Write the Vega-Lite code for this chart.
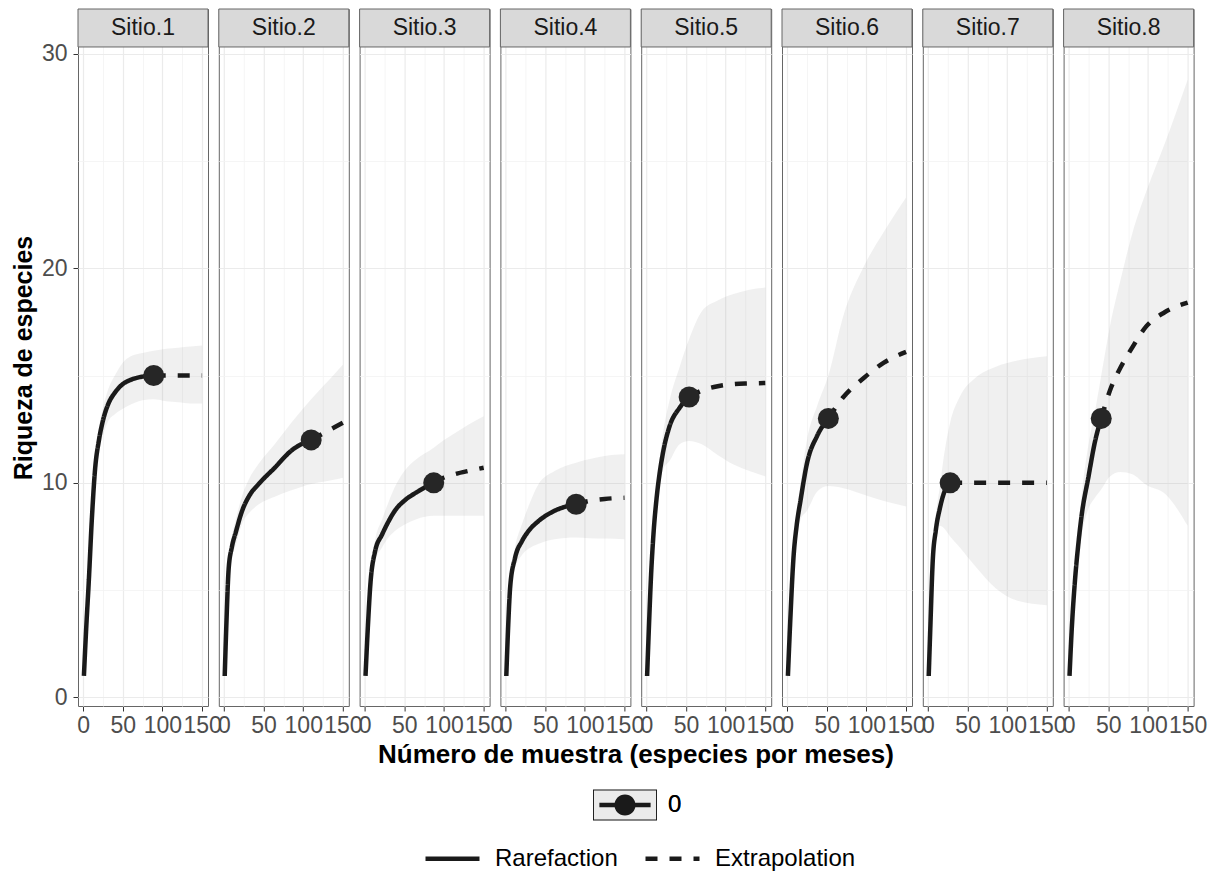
{
  "$schema": "https://vega.github.io/schema/vega-lite/v6.json",
  "padding": {"left": 11, "top": 8, "right": 5, "bottom": 5},
  "background": "white",
  "bounds": "flush",
  "data": {"values": [
    {"sitio":"Sitio.1","tipo":"Rarefaction","x":1,"y":1,"lo":1,"hi":1},
    {"sitio":"Sitio.1","tipo":"Rarefaction","x":4,"y":3.3,"lo":3.0,"hi":3.6},
    {"sitio":"Sitio.1","tipo":"Rarefaction","x":7,"y":5.3,"lo":4.9,"hi":5.7},
    {"sitio":"Sitio.1","tipo":"Rarefaction","x":11,"y":8.3,"lo":7.8,"hi":8.8},
    {"sitio":"Sitio.1","tipo":"Rarefaction","x":15,"y":10.6,"lo":10.0,"hi":11.2},
    {"sitio":"Sitio.1","tipo":"Rarefaction","x":20,"y":12.0,"lo":11.4,"hi":12.6},
    {"sitio":"Sitio.1","tipo":"Rarefaction","x":25,"y":12.9,"lo":12.2,"hi":13.5},
    {"sitio":"Sitio.1","tipo":"Rarefaction","x":32,"y":13.7,"lo":12.9,"hi":14.4},
    {"sitio":"Sitio.1","tipo":"Rarefaction","x":40,"y":14.2,"lo":13.2,"hi":15.0},
    {"sitio":"Sitio.1","tipo":"Rarefaction","x":50,"y":14.6,"lo":13.45,"hi":15.6},
    {"sitio":"Sitio.1","tipo":"Rarefaction","x":60,"y":14.8,"lo":13.65,"hi":15.9},
    {"sitio":"Sitio.1","tipo":"Rarefaction","x":75,"y":14.95,"lo":13.85,"hi":16.05},
    {"sitio":"Sitio.1","tipo":"Rarefaction","x":89,"y":15,"lo":13.9,"hi":16.15},
    {"sitio":"Sitio.1","tipo":"Extrapolation","x":89,"y":15,"lo":13.9,"hi":16.15},
    {"sitio":"Sitio.1","tipo":"Extrapolation","x":105,"y":15,"lo":13.8,"hi":16.25},
    {"sitio":"Sitio.1","tipo":"Extrapolation","x":120,"y":15,"lo":13.75,"hi":16.3},
    {"sitio":"Sitio.1","tipo":"Extrapolation","x":135,"y":15,"lo":13.7,"hi":16.35},
    {"sitio":"Sitio.1","tipo":"Extrapolation","x":150,"y":15,"lo":13.7,"hi":16.4},
    {"sitio":"Sitio.1","tipo":"obs","x":89,"y":15,"grupo":"0"},

    {"sitio":"Sitio.2","tipo":"Rarefaction","x":1,"y":1,"lo":1,"hi":1},
    {"sitio":"Sitio.2","tipo":"Rarefaction","x":3,"y":3.3,"lo":3.1,"hi":3.5},
    {"sitio":"Sitio.2","tipo":"Rarefaction","x":6,"y":6.0,"lo":5.6,"hi":6.4},
    {"sitio":"Sitio.2","tipo":"Rarefaction","x":10,"y":7.0,"lo":6.5,"hi":7.5},
    {"sitio":"Sitio.2","tipo":"Rarefaction","x":15,"y":7.7,"lo":7.1,"hi":8.3},
    {"sitio":"Sitio.2","tipo":"Rarefaction","x":23,"y":8.7,"lo":8.1,"hi":9.4},
    {"sitio":"Sitio.2","tipo":"Rarefaction","x":32,"y":9.4,"lo":8.6,"hi":10.2},
    {"sitio":"Sitio.2","tipo":"Rarefaction","x":44,"y":9.95,"lo":9.0,"hi":10.9},
    {"sitio":"Sitio.2","tipo":"Rarefaction","x":64,"y":10.7,"lo":9.35,"hi":11.8},
    {"sitio":"Sitio.2","tipo":"Rarefaction","x":85,"y":11.5,"lo":9.65,"hi":12.8},
    {"sitio":"Sitio.2","tipo":"Rarefaction","x":110,"y":12.0,"lo":9.95,"hi":13.9},
    {"sitio":"Sitio.2","tipo":"Extrapolation","x":110,"y":12.0,"lo":9.95,"hi":13.9},
    {"sitio":"Sitio.2","tipo":"Extrapolation","x":125,"y":12.3,"lo":10.05,"hi":14.5},
    {"sitio":"Sitio.2","tipo":"Extrapolation","x":140,"y":12.6,"lo":10.15,"hi":15.1},
    {"sitio":"Sitio.2","tipo":"Extrapolation","x":150,"y":12.8,"lo":10.24,"hi":15.5},
    {"sitio":"Sitio.2","tipo":"obs","x":110,"y":12,"grupo":"0"},

    {"sitio":"Sitio.3","tipo":"Rarefaction","x":1,"y":1,"lo":1,"hi":1},
    {"sitio":"Sitio.3","tipo":"Rarefaction","x":4,"y":3.3,"lo":3.1,"hi":3.5},
    {"sitio":"Sitio.3","tipo":"Rarefaction","x":7,"y":5.2,"lo":4.8,"hi":5.6},
    {"sitio":"Sitio.3","tipo":"Rarefaction","x":13,"y":6.8,"lo":6.3,"hi":7.3},
    {"sitio":"Sitio.3","tipo":"Rarefaction","x":22,"y":7.6,"lo":7.0,"hi":8.3},
    {"sitio":"Sitio.3","tipo":"Rarefaction","x":30,"y":8.2,"lo":7.45,"hi":9.1},
    {"sitio":"Sitio.3","tipo":"Rarefaction","x":38,"y":8.7,"lo":7.75,"hi":9.8},
    {"sitio":"Sitio.3","tipo":"Rarefaction","x":51,"y":9.2,"lo":8.07,"hi":10.6},
    {"sitio":"Sitio.3","tipo":"Rarefaction","x":65,"y":9.55,"lo":8.3,"hi":11.1},
    {"sitio":"Sitio.3","tipo":"Rarefaction","x":87,"y":10,"lo":8.46,"hi":11.64},
    {"sitio":"Sitio.3","tipo":"Extrapolation","x":87,"y":10,"lo":8.46,"hi":11.64},
    {"sitio":"Sitio.3","tipo":"Extrapolation","x":100,"y":10.25,"lo":8.46,"hi":12.0},
    {"sitio":"Sitio.3","tipo":"Extrapolation","x":113,"y":10.4,"lo":8.46,"hi":12.3},
    {"sitio":"Sitio.3","tipo":"Extrapolation","x":130,"y":10.55,"lo":8.46,"hi":12.7},
    {"sitio":"Sitio.3","tipo":"Extrapolation","x":150,"y":10.7,"lo":8.46,"hi":13.1},
    {"sitio":"Sitio.3","tipo":"obs","x":87,"y":10,"grupo":"0"},

    {"sitio":"Sitio.4","tipo":"Rarefaction","x":1,"y":1,"lo":1,"hi":1},
    {"sitio":"Sitio.4","tipo":"Rarefaction","x":3,"y":3.0,"lo":2.8,"hi":3.2},
    {"sitio":"Sitio.4","tipo":"Rarefaction","x":6,"y":5.2,"lo":4.8,"hi":5.6},
    {"sitio":"Sitio.4","tipo":"Rarefaction","x":12,"y":6.5,"lo":6.0,"hi":7.0},
    {"sitio":"Sitio.4","tipo":"Rarefaction","x":21,"y":7.3,"lo":6.65,"hi":8.1},
    {"sitio":"Sitio.4","tipo":"Rarefaction","x":30,"y":7.8,"lo":6.95,"hi":9.0},
    {"sitio":"Sitio.4","tipo":"Rarefaction","x":41,"y":8.2,"lo":7.15,"hi":9.9},
    {"sitio":"Sitio.4","tipo":"Rarefaction","x":62,"y":8.7,"lo":7.37,"hi":10.55},
    {"sitio":"Sitio.4","tipo":"Rarefaction","x":89,"y":9.0,"lo":7.45,"hi":10.94},
    {"sitio":"Sitio.4","tipo":"Extrapolation","x":89,"y":9.0,"lo":7.45,"hi":10.94},
    {"sitio":"Sitio.4","tipo":"Extrapolation","x":105,"y":9.15,"lo":7.42,"hi":11.1},
    {"sitio":"Sitio.4","tipo":"Extrapolation","x":125,"y":9.25,"lo":7.4,"hi":11.25},
    {"sitio":"Sitio.4","tipo":"Extrapolation","x":150,"y":9.3,"lo":7.37,"hi":11.33},
    {"sitio":"Sitio.4","tipo":"obs","x":89,"y":9,"grupo":"0"},

    {"sitio":"Sitio.5","tipo":"Rarefaction","x":1,"y":1,"lo":1,"hi":1},
    {"sitio":"Sitio.5","tipo":"Rarefaction","x":3,"y":3.0,"lo":2.9,"hi":3.1},
    {"sitio":"Sitio.5","tipo":"Rarefaction","x":6,"y":5.7,"lo":5.4,"hi":6.0},
    {"sitio":"Sitio.5","tipo":"Rarefaction","x":9,"y":7.6,"lo":7.2,"hi":8.0},
    {"sitio":"Sitio.5","tipo":"Rarefaction","x":13,"y":9.3,"lo":8.8,"hi":9.9},
    {"sitio":"Sitio.5","tipo":"Rarefaction","x":17,"y":10.5,"lo":9.9,"hi":11.2},
    {"sitio":"Sitio.5","tipo":"Rarefaction","x":21,"y":11.4,"lo":10.6,"hi":12.3},
    {"sitio":"Sitio.5","tipo":"Rarefaction","x":29,"y":12.6,"lo":11.0,"hi":13.8},
    {"sitio":"Sitio.5","tipo":"Rarefaction","x":42,"y":13.5,"lo":11.8,"hi":15.4},
    {"sitio":"Sitio.5","tipo":"Rarefaction","x":54,"y":14.0,"lo":11.95,"hi":16.7},
    {"sitio":"Sitio.5","tipo":"Extrapolation","x":54,"y":14.0,"lo":11.95,"hi":16.7},
    {"sitio":"Sitio.5","tipo":"Extrapolation","x":70,"y":14.3,"lo":11.8,"hi":18.0},
    {"sitio":"Sitio.5","tipo":"Extrapolation","x":90,"y":14.5,"lo":11.3,"hi":18.5},
    {"sitio":"Sitio.5","tipo":"Extrapolation","x":110,"y":14.6,"lo":10.85,"hi":18.8},
    {"sitio":"Sitio.5","tipo":"Extrapolation","x":130,"y":14.63,"lo":10.55,"hi":19.0},
    {"sitio":"Sitio.5","tipo":"Extrapolation","x":150,"y":14.65,"lo":10.3,"hi":19.1},
    {"sitio":"Sitio.5","tipo":"obs","x":54,"y":14,"grupo":"0"},

    {"sitio":"Sitio.6","tipo":"Rarefaction","x":1,"y":1,"lo":1,"hi":1},
    {"sitio":"Sitio.6","tipo":"Rarefaction","x":4,"y":3.6,"lo":3.4,"hi":3.8},
    {"sitio":"Sitio.6","tipo":"Rarefaction","x":8,"y":6.5,"lo":6.1,"hi":6.9},
    {"sitio":"Sitio.6","tipo":"Rarefaction","x":12,"y":8.0,"lo":7.5,"hi":8.6},
    {"sitio":"Sitio.6","tipo":"Rarefaction","x":17,"y":9.2,"lo":8.3,"hi":10.0},
    {"sitio":"Sitio.6","tipo":"Rarefaction","x":25,"y":10.9,"lo":8.7,"hi":12.0},
    {"sitio":"Sitio.6","tipo":"Rarefaction","x":38,"y":12.2,"lo":9.6,"hi":13.6},
    {"sitio":"Sitio.6","tipo":"Rarefaction","x":52,"y":13.0,"lo":9.85,"hi":15.0},
    {"sitio":"Sitio.6","tipo":"Extrapolation","x":52,"y":13.0,"lo":9.85,"hi":15.0},
    {"sitio":"Sitio.6","tipo":"Extrapolation","x":71,"y":14.0,"lo":9.75,"hi":17.8},
    {"sitio":"Sitio.6","tipo":"Extrapolation","x":97,"y":14.9,"lo":9.45,"hi":20.1},
    {"sitio":"Sitio.6","tipo":"Extrapolation","x":122,"y":15.6,"lo":9.15,"hi":21.7},
    {"sitio":"Sitio.6","tipo":"Extrapolation","x":150,"y":16.1,"lo":8.9,"hi":23.3},
    {"sitio":"Sitio.6","tipo":"obs","x":52,"y":13,"grupo":"0"},

    {"sitio":"Sitio.7","tipo":"Rarefaction","x":1,"y":1,"lo":1,"hi":1},
    {"sitio":"Sitio.7","tipo":"Rarefaction","x":3,"y":3.2,"lo":3.0,"hi":3.4},
    {"sitio":"Sitio.7","tipo":"Rarefaction","x":6,"y":6.3,"lo":5.9,"hi":6.8},
    {"sitio":"Sitio.7","tipo":"Rarefaction","x":10,"y":7.8,"lo":7.2,"hi":8.5},
    {"sitio":"Sitio.7","tipo":"Rarefaction","x":15,"y":8.8,"lo":8.0,"hi":9.8},
    {"sitio":"Sitio.7","tipo":"Rarefaction","x":20,"y":9.5,"lo":7.9,"hi":11.2},
    {"sitio":"Sitio.7","tipo":"Rarefaction","x":28,"y":10,"lo":7.5,"hi":12.8},
    {"sitio":"Sitio.7","tipo":"Extrapolation","x":28,"y":10,"lo":7.5,"hi":12.8},
    {"sitio":"Sitio.7","tipo":"Extrapolation","x":40,"y":10,"lo":7.0,"hi":14.0},
    {"sitio":"Sitio.7","tipo":"Extrapolation","x":60,"y":10,"lo":6.1,"hi":14.9},
    {"sitio":"Sitio.7","tipo":"Extrapolation","x":85,"y":10,"lo":5.1,"hi":15.4},
    {"sitio":"Sitio.7","tipo":"Extrapolation","x":113,"y":10,"lo":4.5,"hi":15.7},
    {"sitio":"Sitio.7","tipo":"Extrapolation","x":150,"y":10,"lo":4.3,"hi":15.9},
    {"sitio":"Sitio.7","tipo":"obs","x":28,"y":10,"grupo":"0"},

    {"sitio":"Sitio.8","tipo":"Rarefaction","x":1,"y":1,"lo":1,"hi":1},
    {"sitio":"Sitio.8","tipo":"Rarefaction","x":4,"y":3.3,"lo":3.1,"hi":3.5},
    {"sitio":"Sitio.8","tipo":"Rarefaction","x":8,"y":5.5,"lo":5.1,"hi":5.9},
    {"sitio":"Sitio.8","tipo":"Rarefaction","x":12,"y":7.1,"lo":6.5,"hi":7.7},
    {"sitio":"Sitio.8","tipo":"Rarefaction","x":16,"y":8.4,"lo":7.5,"hi":9.3},
    {"sitio":"Sitio.8","tipo":"Rarefaction","x":25,"y":10.3,"lo":8.8,"hi":11.8},
    {"sitio":"Sitio.8","tipo":"Rarefaction","x":33,"y":11.9,"lo":9.3,"hi":13.3},
    {"sitio":"Sitio.8","tipo":"Rarefaction","x":41,"y":13.0,"lo":9.7,"hi":15.0},
    {"sitio":"Sitio.8","tipo":"Extrapolation","x":41,"y":13.0,"lo":9.7,"hi":15.0},
    {"sitio":"Sitio.8","tipo":"Extrapolation","x":52,"y":14.3,"lo":10.3,"hi":17.3},
    {"sitio":"Sitio.8","tipo":"Extrapolation","x":65,"y":15.35,"lo":10.5,"hi":19.4},
    {"sitio":"Sitio.8","tipo":"Extrapolation","x":80,"y":16.3,"lo":10.4,"hi":21.6},
    {"sitio":"Sitio.8","tipo":"Extrapolation","x":98,"y":17.3,"lo":9.9,"hi":23.6},
    {"sitio":"Sitio.8","tipo":"Extrapolation","x":121,"y":17.95,"lo":9.5,"hi":25.8},
    {"sitio":"Sitio.8","tipo":"Extrapolation","x":150,"y":18.4,"lo":8.0,"hi":28.8},
    {"sitio":"Sitio.8","tipo":"obs","x":41,"y":13,"grupo":"0"}
  ]},
  "facet": {
    "column": {
      "field": "sitio",
      "type": "nominal",
      "header": {
        "labels": false,
        "title": "Número de muestra (especies por meses)",
        "titleOrient": "bottom",
        "titleFont": "Liberation Sans",
        "titleFontSize": 26,
        "titleFontWeight": "bold",
        "titleColor": "black",
        "titlePadding": -5
      }
    }
  },
  "spacing": 10.8,
  "spec": {
    "width": 130,
    "height": 697,
    "encoding": {
      "x": {
        "field": "x",
        "type": "quantitative",
        "scale": {"domain": [-6.45, 157.45], "nice": false, "zero": false},
        "axis": {
          "title": null,
          "values": [0, 25, 50, 75, 100, 125, 150],
          "labelExpr": "datum.value % 50 === 0 ? datum.label : ''",
          "labelOverlap": false,
          "labelFlush": false,
          "tickOpacity": {"condition": {"test": "datum.value % 50 === 0", "value": 1}, "value": 0},
          "gridColor": {"condition": {"test": "datum.value % 50 === 0", "value": "#EBEBEB"}, "value": "#F3F3F3"},
          "gridWidth": {"condition": {"test": "datum.value % 50 === 0", "value": 1.2}, "value": 0.8}
        }
      },
      "y": {
        "field": "y",
        "type": "quantitative",
        "scale": {"domain": [-0.4, 32.08], "nice": false, "zero": false},
        "axis": {
          "title": "Riqueza de especies",
          "titlePadding": 5,
          "labelPadding": 6,
          "values": [0, 5, 10, 15, 20, 25, 30],
          "labelExpr": "datum.value % 10 === 0 ? datum.label : ''",
          "labelOverlap": false,
          "labelFlush": false,
          "tickOpacity": {"condition": {"test": "datum.value % 10 === 0", "value": 1}, "value": 0},
          "gridColor": {"condition": {"test": "datum.value % 10 === 0", "value": "#EBEBEB"}, "value": "#F3F3F3"},
          "gridWidth": {"condition": {"test": "datum.value % 10 === 0", "value": 1.2}, "value": 0.8}
        }
      }
    },
    "layer": [
      {
        "transform": [{"filter": "datum.tipo !== 'obs'"}],
        "mark": {"type": "area", "fill": "#999999", "fillOpacity": 0.15, "interpolate": "monotone"},
        "encoding": {
          "y": {"field": "lo", "type": "quantitative"},
          "y2": {"field": "hi"}
        }
      },
      {
        "transform": [{"filter": "datum.tipo !== 'obs'"}],
        "mark": {"type": "line", "color": "#1A1A1A", "strokeWidth": 4.5, "strokeCap": "butt", "interpolate": "monotone"},
        "encoding": {
          "strokeDash": {
            "field": "tipo",
            "type": "nominal",
            "scale": {"domain": ["Rarefaction", "Extrapolation"], "range": [[1, 0], [12, 12]]},
            "legend": {
              "title": null,
              "orient": "none",
              "legendX": 345,
              "legendY": 820,
              "direction": "horizontal",
              "symbolType": "stroke",
              "symbolSize": 2916,
              "symbolStrokeWidth": 4.5,
              "symbolStrokeColor": "#1A1A1A",
              "labelFontSize": 24,
              "labelOffset": 13,
              "columnPadding": 18,
              "padding": 0
            }
          }
        }
      },
      {
        "transform": [{"filter": "datum.tipo === 'obs'"}],
        "mark": {"type": "point", "filled": true, "color": "#262626", "opacity": 1, "size": 441}
      },
      {
        "transform": [{"filter": "datum.tipo === 'obs'"}],
        "mark": {"type": "point", "filled": true, "fill": "#EBEBEB", "opacity": 1, "size": 0},
        "encoding": {
          "shape": {
            "field": "grupo",
            "type": "nominal",
            "scale": {"range": ["M-1,-0.484H1V0.484H-1Z"]},
            "legend": {
              "title": null,
              "orient": "none",
              "legendX": 514,
              "legendY": 763,
              "zindex": 1,
              "symbolSize": 4096,
              "symbolOpacity": 1,
              "labelOffset": 10,
              "labelFontSize": 24,
              "padding": 0
            }
          }
        }
      },
      {
        "transform": [{"filter": "datum.tipo === 'obs'"}],
        "mark": {"type": "point", "filled": true, "opacity": 1, "size": 0, "shape": "M-1,-0.484H1V0.484H-1Z M-0.97,-0.454V0.454H0.97V-0.454Z M-0.8,-0.07H0.8V0.07H-0.8Z M-0.33,0A0.33,0.33 0 1,1 0.33,0A0.33,0.33 0 1,1 -0.33,0Z"},
        "encoding": {
          "color": {
            "field": "grupo",
            "type": "nominal",
            "scale": {"domain": ["0"], "range": ["#1A1A1A"]},
            "legend": {
              "title": null,
              "orient": "none",
              "legendX": 514,
              "legendY": 763,
              "zindex": 2,
              "symbolType": "M-1,-0.484H1V0.484H-1Z M-0.97,-0.454V0.454H0.97V-0.454Z M-0.8,-0.07H0.8V0.07H-0.8Z M-0.33,0A0.33,0.33 0 1,1 0.33,0A0.33,0.33 0 1,1 -0.33,0Z",
              "symbolSize": 4096,
              "symbolOpacity": 1,
              "labelOffset": 10,
              "labelFontSize": 24,
              "padding": 0
            }
          }
        }
      },
      {
        "transform": [{"filter": "datum.tipo === 'obs'"}],
        "mark": {"type": "rect", "fill": "#D9D9D9", "stroke": "#666666", "strokeWidth": 1},
        "encoding": {
          "x": {"datum": -6.45},
          "x2": {"datum": 157.45},
          "y": {"datum": 30.31},
          "y2": {"datum": 32.08}
        }
      },
      {
        "transform": [{"filter": "datum.tipo === 'obs'"}],
        "mark": {"type": "text", "font": "Liberation Sans", "fontSize": 23, "color": "#1A1A1A", "baseline": "middle", "align": "center"},
        "encoding": {
          "x": {"datum": 75.5},
          "y": {"datum": 31.2},
          "text": {"field": "sitio"}
        }
      }
    ]
  },
  "config": {
    "font": "Liberation Sans",
    "view": {"stroke": "#666666", "strokeWidth": 1},
    "axis": {
      "labelFont": "Liberation Sans",
      "labelFontSize": 23,
      "labelColor": "#4D4D4D",
      "tickColor": "#333333",
      "tickSize": 5,
      "labelPadding": 3,
      "domain": false,
      "titleFont": "Liberation Sans",
      "titleFontSize": 25,
      "titleFontWeight": "bold",
      "titleColor": "black"
    },
    "legend": {
      "labelFont": "Liberation Sans",
      "labelFontSize": 23,
      "labelColor": "black"
    }
  }
}
